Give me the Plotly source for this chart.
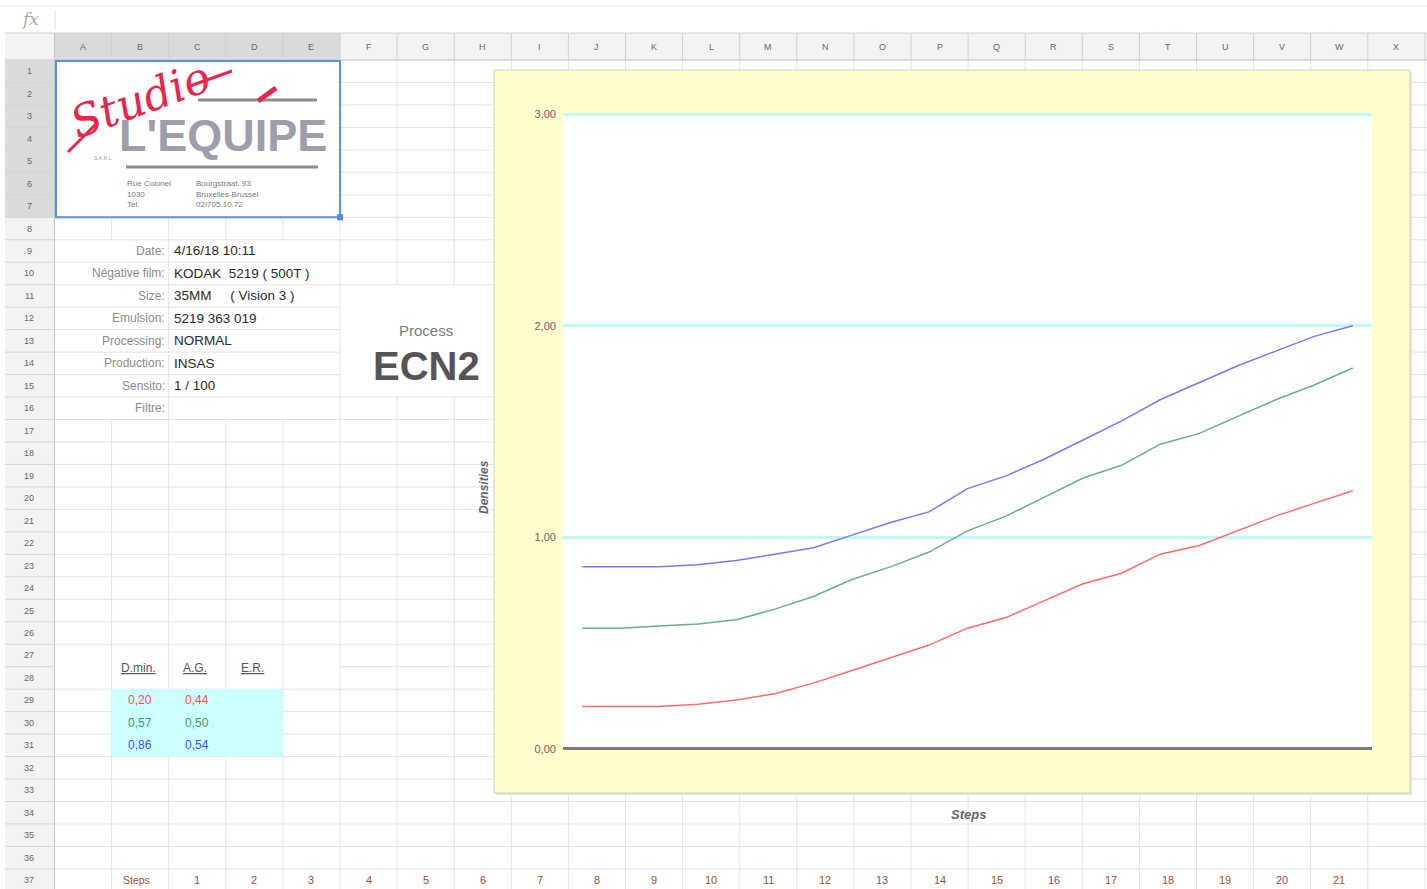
import plotly.graph_objects as go

W, H = 1427, 889
FONT = "Liberation Sans, Arial, sans-serif"

# ---- data -------------------------------------------------------------
steps = list(range(1, 22))
density_red = [0.20, 0.20, 0.20, 0.21, 0.23, 0.26, 0.31, 0.37, 0.43, 0.49, 0.57,
               0.62, 0.70, 0.78, 0.83, 0.92, 0.96, 1.03, 1.10, 1.16, 1.22]
density_green = [0.57, 0.57, 0.58, 0.59, 0.61, 0.66, 0.72, 0.80, 0.86, 0.93, 1.03,
                 1.10, 1.19, 1.28, 1.34, 1.44, 1.49, 1.57, 1.65, 1.72, 1.80]
density_blue = [0.86, 0.86, 0.86, 0.87, 0.89, 0.92, 0.95, 1.01, 1.07, 1.12, 1.23,
                1.29, 1.37, 1.46, 1.55, 1.65, 1.73, 1.81, 1.88, 1.95, 2.00]
avg_gradient = [0.44, 0.50, 0.54]
y_ticks = [0, 1, 2, 3]

column_letters = [chr(ord("A") + i) for i in range(24)]
row_numbers = list(range(1, 38))
info_labels = ["Date:", "Négative film:", "Size:", "Emulsion:", "Processing:",
               "Production:", "Sensito:", "Filtre:"]
info_values = ["4/16/18 10:11", "KODAK\u00a0\u00a05219 ( 500T )",
               "35MM\u00a0\u00a0\u00a0\u00a0\u00a0( Vision 3 )", "5219 363 019",
               "NORMAL", "INSAS", "1 / 100", ""]
table_headers = ["D.min.", "A.G.", "E.R."]
series_colors = ["#ff6b6b", "#6aae8a", "#7878ff"]
table_colors = ["#ff4a4a", "#3f9a5f", "#3a50ff"]

# ---- sheet geometry (pixels) -----------------------------------------
COL0, CW = 54.5, 57.1
ROW0, RH = 60.0, 22.47
GRID = "#e3e3e3"
HEAD_BG, HEAD_SEL = "#f3f3f3", "#dadada"

# plot area of the density chart
PLOT_X0, PLOT_X1 = 563, 1372
PLOT_Y3, PLOT_Y0 = 114.3, 748.7      # pixel rows of density 3 and 0


def px(x):
    return x / W


def py(y):
    return 1 - y / H


def col_x(k):
    return COL0 + CW * k


def row_y(k):
    return ROW0 + RH * k


shapes = []
annotations = []


def line(x0, y0, x1, y1, color=GRID, width=1):
    shapes.append(dict(type="line", xref="paper", yref="paper", layer="below",
                       x0=px(x0), y0=py(y0), x1=px(x1), y1=py(y1),
                       line=dict(color=color, width=width)))


def rect(x0, y0, x1, y1, fill, color=None, width=0):
    shapes.append(dict(type="rect", xref="paper", yref="paper", layer="below",
                       x0=px(x0), y0=py(y0), x1=px(x1), y1=py(y1), fillcolor=fill,
                       line=dict(color=color or fill, width=width)))


def text(x, y, s, size=12, color="#333", xanchor="center", yanchor="middle",
         family=FONT, angle=0, weight=None, style=None):
    font = dict(size=size, color=color, family=family)
    if weight:
        font["weight"] = weight
    if style:
        font["style"] = style
    annotations.append(dict(x=px(x), y=py(y), xref="paper", yref="paper", text=s,
                            showarrow=False, xanchor=xanchor, yanchor=yanchor,
                            font=font, textangle=angle, borderpad=0))


# formula bar
line(0, 6, W, 6, "#e6e6e6")
line(55, 11, 55, 29, "#e0e0e0")
text(30, 19, "fx", size=17, color="#aaa", family="DejaVu Serif, serif", style="italic")

# cell grid: vertical lines with merged-cell gaps
for k in range(1, 25):
    x = col_x(k)
    gaps = []
    if 1 <= k <= 4:
        gaps.append((row_y(0), row_y(7)))          # logo block A1:E7
    if k in (1, 3, 4):
        gaps.append((row_y(8), row_y(16)))         # info block rows 9-16
    if k in (6, 7):
        gaps.append((row_y(10), row_y(15)))        # process block F11:H15
    y_start = ROW0
    for g0, g1 in sorted(gaps):
        line(x, y_start, x, g0)
        y_start = g1
    line(x, y_start, x, H)

# cell grid: horizontal lines
for j in range(1, 38):
    y = row_y(j)
    if 1 <= j <= 6 or j == 27:
        line(col_x(5), y, W, y)
    elif 11 <= j <= 14:
        line(COL0, y, col_x(5), y)
        line(col_x(8), y, W, y)
    else:
        line(COL0, y, W, y)

# column header band
rect(5, 33, W, ROW0, HEAD_BG)
rect(col_x(0), 33, col_x(5), ROW0, HEAD_SEL)
line(5, 33, W, 33, "#d0d0d0")
line(5, ROW0, W, ROW0, "#c4c4c4")
for k in range(0, 25):
    line(col_x(k), 33, col_x(k), ROW0, "#cfcfcf")
for i, letter in enumerate(column_letters):
    text(col_x(i) + CW / 2, 47, letter, size=9, color="#666")

# row header band
rect(5, ROW0, COL0, H, HEAD_BG)
rect(5, row_y(0), COL0, row_y(7), HEAD_SEL)
line(COL0, 33, COL0, H, "#c4c4c4")
for j in range(1, 38):
    line(5, row_y(j), COL0, row_y(j), "#d4d4d4")
for r in row_numbers:
    text(29, row_y(r - 1) + RH / 2, str(r), size=9, color="#666")

# logo block
line(198, 100, 317, 100, "#8c8c96", 3)
text(223, 136, "L'EQUIPE", size=45, color="#9d9dac", weight="bold")
line(126, 167, 318, 167, "#8c8c96", 3)
text(140, 100, "<i>Studio</i>", size=44, color="#e8264d",
     family="DejaVu Serif, serif", angle=-20)
line(68, 152, 98, 122, "#e8264d", 3)
line(190, 86, 232, 71, "#e8264d", 3)
line(258, 101, 276, 88, "#e8264d", 5)
text(103, 158, "S.A.R.L.", size=5, color="#999")
addr_left = ["Rue Colonel", "1030", "Tel."]
addr_right = ["Bourgstraat, 93", "Bruxelles-Brussel", "02/705.10.72"]
for i in range(3):
    text(126, 183 + 11 * i, addr_left[i], size=8, color="#777", xanchor="left")
    text(195, 183 + 11 * i, addr_right[i], size=8, color="#777", xanchor="left")
shapes.append(dict(type="rect", xref="paper", yref="paper", layer="above",
                   x0=px(56), y0=py(61), x1=px(col_x(5)), y1=py(row_y(7)),
                   line=dict(color="#5b8fe6", width=2)))
rect(col_x(5) - 3, row_y(7) - 3, col_x(5) + 3, row_y(7) + 3, "#4a86e8")

# film information
for i, (lab, val) in enumerate(zip(info_labels, info_values)):
    yc = row_y(8 + i) + RH / 2
    text(166, yc, lab, size=12, color="#8a8a8a", xanchor="right")
    if val:
        text(173, yc, val, size=13.5, color="#2a2a2a", xanchor="left")

text(426, 330, "Process", size=15, color="#7a7a7a")
text(426, 366, "ECN2", size=40, color="#555", weight="bold")

# D.min / A.G. / E.R. table
rect(col_x(1), row_y(28), col_x(4), row_y(31), "#ccffff")
for i, h in enumerate(table_headers):
    text(col_x(1 + i) + CW / 2 - 2, 668,
         '<span style="text-decoration:underline">' + h + "</span>",
         size=12, color="#555")
dmin = [density_red[0], density_green[0], density_blue[0]]
for i in range(3):
    yc = row_y(28 + i) + RH / 2
    text(col_x(1) + CW / 2, yc, f"{dmin[i]:.2f}".replace(".", ","), size=12,
         color=table_colors[i])
    text(col_x(2) + CW / 2, yc, f"{avg_gradient[i]:.2f}".replace(".", ","),
         size=12, color=table_colors[i])

# steps row
text(col_x(1) + CW / 2 - 4, row_y(36) + RH / 2, "Steps", size=10.5, color="#a0502e")
for s in steps:
    text(col_x(s + 1) + CW / 2, row_y(36) + RH / 2, str(s), size=11, color="#a0502e")

# chart box with its white plotting area
rect(496, 72, 1412, 795, "#e4e4dc")
rect(494, 70, 1410, 793, "#fffdcc", "#cfcfc4", 1)
rect(PLOT_X0, PLOT_Y3, PLOT_X1, PLOT_Y0, "white")
text(484, 487, "Densities", size=12, color="#666", angle=-90, style="italic",
     weight="bold")
text(968, 814, "Steps", size=13, color="#666", style="italic", weight="bold")

# ---- density curves ---------------------------------------------------
fig = go.Figure()
for ys, c, n in zip([density_red, density_green, density_blue], series_colors,
                    ["Rouge", "Vert", "Bleu"]):
    fig.add_trace(go.Scatter(x=steps, y=ys, mode="lines", name=n,
                             line=dict(color=c, width=1.5), hoverinfo="skip"))

ppu = (PLOT_Y0 - PLOT_Y3) / 3
y_top = 3 + (PLOT_Y3 - 112) / ppu
y_bot = -(750 - PLOT_Y0) / ppu

fig.update_layout(
    width=W, height=H, autosize=False,
    margin=dict(l=0, r=0, t=0, b=0, pad=0, autoexpand=False),
    paper_bgcolor="white", plot_bgcolor="rgba(0,0,0,0)",
    separators=",.",
    showlegend=False,
    xaxis=dict(domain=[px(PLOT_X0), px(PLOT_X1)], range=[0.5, 21.5], showgrid=False,
               zeroline=False, showticklabels=False, ticks="", fixedrange=True,
               automargin=False),
    yaxis=dict(domain=[py(750), py(112)], range=[y_bot, y_top], tickvals=y_ticks,
               tickformat=".2f", showgrid=True, gridcolor="#bdfafa", gridwidth=3,
               zeroline=True, zerolinecolor="#7a7a7a", zerolinewidth=2.5,
               ticks="", ticklabelstandoff=6, fixedrange=True, automargin=False,
               tickfont=dict(size=11, color="#666", family=FONT)),
    shapes=shapes,
    annotations=annotations,
)

fig.write_html("out.html", config={"displayModeBar": False, "staticPlot": True})
